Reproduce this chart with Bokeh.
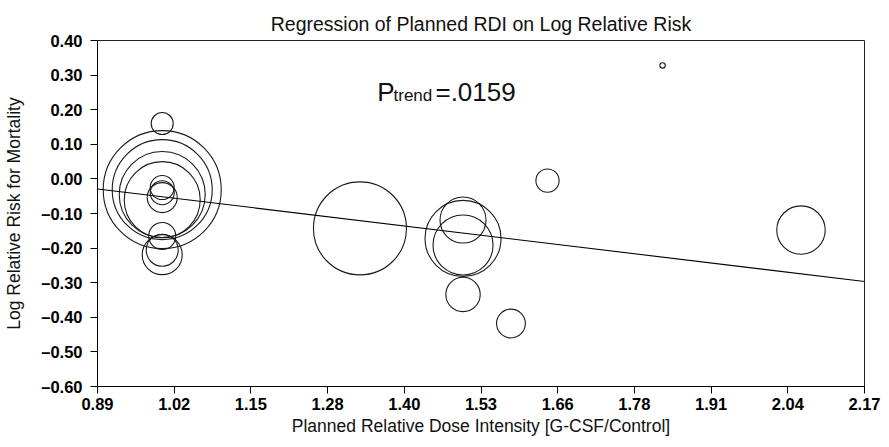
import numpy as np
from bokeh.plotting import figure
from bokeh.models import FixedTicker, Range1d, Label, ColumnDataSource
from bokeh.embed import file_html
from bokeh.resources import INLINE

# ---- data ----
planned_rdi = [0.998, 0.998, 0.998, 0.998, 0.998, 0.998, 0.998, 0.998, 0.998,
               0.998, 0.998,
               1.328, 1.50, 1.50, 1.50, 1.50, 1.58, 1.641, 1.833, 2.064]
log_rr = [0.160, -0.031, -0.031, -0.045, -0.060, -0.025, -0.040, -0.054,
          -0.165, -0.206, -0.219,
          -0.143, -0.119, -0.172, -0.191, -0.334, -0.418, -0.005, 0.328, -0.148]
# study weight (relative bubble radius)
weight = [11, 59, 50, 43, 38, 12, 12, 15, 13.5, 16, 20,
          46.5, 23, 38, 30, 17.2, 14.4, 11.6, 2.7, 24.2]

reg_intercept = 0.157
reg_slope = -0.209

x_tick_labels = ["0.89", "1.02", "1.15", "1.28", "1.40", "1.53", "1.66",
                 "1.78", "1.91", "2.04", "2.17"]
y_tick_labels = ["0.40", "0.30", "0.20", "0.10", "0.00", "\u20130.10",
                 "\u20130.20", "\u20130.30", "\u20130.40", "\u20130.50", "\u20130.60"]
x_min, x_max = 0.89, 2.17
y_max, y_min = 0.40, -0.60

FONT = "Liberation Sans"

p = figure(width=881, height=439, output_backend="svg", toolbar_location=None,
           x_range=Range1d(x_min, x_max), y_range=Range1d(y_min, y_max),
           min_border_left=97, min_border_right=17, min_border_top=40,
           min_border_bottom=53)

p.title.text = "Regression of Planned RDI on Log Relative Risk"
p.title.align = "center"
p.title.text_font = FONT
p.title.text_font_style = "normal"
p.title.text_font_size = "19.5px"
p.title.text_color = "#111111"
p.title.standoff = 12

p.grid.visible = False
p.outline_line_color = "#222222"
p.outline_line_width = 1
p.background_fill_color = "white"
p.border_fill_color = "white"

xt = [float(round(v, 4)) for v in np.linspace(x_min, x_max, len(x_tick_labels))]
yt = [float(round(v, 4)) for v in np.linspace(y_max, y_min, len(y_tick_labels))]
p.xaxis.ticker = FixedTicker(ticks=xt)
p.yaxis.ticker = FixedTicker(ticks=yt)
p.xaxis.major_label_overrides = dict(zip(xt, x_tick_labels))
p.yaxis.major_label_overrides = dict(zip(yt, y_tick_labels))

for ax in (p.xaxis, p.yaxis):
    ax.axis_line_color = "black"
    ax.axis_line_width = 1
    ax.major_tick_line_color = "black"
    ax.major_tick_in = 0
    ax.major_tick_out = 7
    ax.minor_tick_line_color = None
    ax.major_label_text_font = FONT
    ax.major_label_text_font_style = "bold"
    ax.major_label_text_font_size = "16.5px"
    ax.major_label_text_color = "black"
    ax.axis_label_text_font = FONT
    ax.axis_label_text_font_style = "normal"
    ax.axis_label_text_font_size = "17.5px"
    ax.axis_label_text_color = "#111111"

p.xaxis.axis_label = "Planned Relative Dose Intensity [G-CSF/Control]"
p.yaxis.axis_label = "Log Relative Risk for Mortality"
p.xaxis.major_label_standoff = 4
p.yaxis.major_label_standoff = 8
p.xaxis.axis_label_standoff = 3
p.yaxis.axis_label_standoff = 14

src = ColumnDataSource(dict(x=planned_rdi, y=log_rr,
                            size=[2 * w for w in weight]))
p.scatter("x", "y", size="size", source=src, marker="circle",
          fill_color=None, line_color="#1a1a1a", line_width=1.1)

lx = [x_min, x_max]
ly = [reg_intercept + reg_slope * v for v in lx]
p.line(lx, ly, line_color="black", line_width=1.1)

p.add_layout(Label(x=1.357, y=0.2506, text="P", text_font=FONT,
                   text_font_size="26px", text_color="#111111",
                   text_baseline="alphabetic"))
p.add_layout(Label(x=1.384, y=0.2396, text="trend", text_font=FONT,
                   text_font_size="17px", text_color="#111111",
                   text_baseline="alphabetic"))
p.add_layout(Label(x=1.454, y=0.2506, text="=.0159", text_font=FONT,
                   text_font_size="26px", text_color="#111111",
                   text_baseline="alphabetic"))

open("out.html", "w").write(file_html(p, INLINE))
